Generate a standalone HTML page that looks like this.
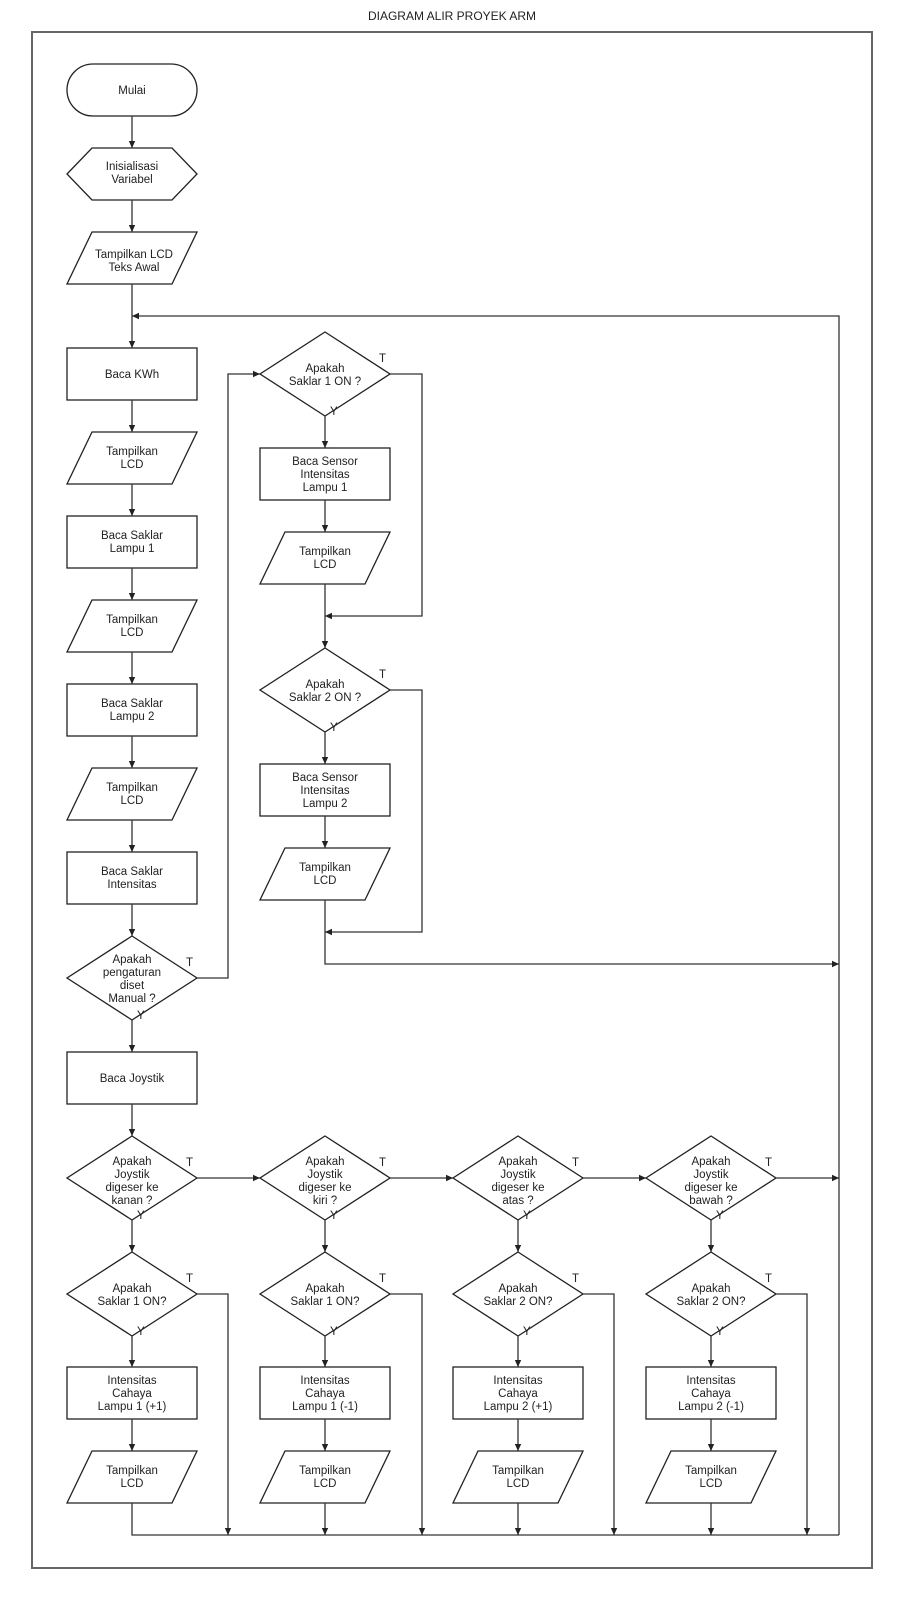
<!DOCTYPE html>
<html><head><meta charset="utf-8">
<style>
html,body{margin:0;padding:0;background:#fff;}
svg{display:block;}
text{font-family:"Liberation Sans",Arial,sans-serif;font-size:11.5px;fill:#222;}
</style></head>
<body>
<svg width="904" height="1600" viewBox="0 0 904 1600" xmlns="http://www.w3.org/2000/svg">
<defs>
<marker id="a" markerWidth="8" markerHeight="8" refX="7" refY="4" orient="auto" markerUnits="userSpaceOnUse">
<path d="M0,0.8 L7,4 L0,7.2 z" fill="#222"/>
</marker>
</defs>
<text x="452" y="20" text-anchor="middle" style="font-size:12px">DIAGRAM ALIR PROYEK ARM</text>
<rect x="32" y="32" width="840" height="1536" fill="none" stroke="#666" stroke-width="2"/>

<g fill="#fff" stroke="#222" stroke-width="1.3">
<!-- column 1 -->
<rect x="67" y="64" width="130" height="52" rx="26"/>
<polygon points="67,174 92,148 172,148 197,174 172,200 92,200"/>
<polygon points="92,232 197,232 172,284 67,284"/>
<rect x="67" y="348" width="130" height="52"/>
<polygon points="92,432 197,432 172,484 67,484"/>
<rect x="67" y="516" width="130" height="52"/>
<polygon points="92,600 197,600 172,652 67,652"/>
<rect x="67" y="684" width="130" height="52"/>
<polygon points="92,768 197,768 172,820 67,820"/>
<rect x="67" y="852" width="130" height="52"/>
<polygon points="132,936 197,978 132,1020 67,978"/>
<rect x="67" y="1052" width="130" height="52"/>
<!-- column 2 upper -->
<polygon points="325,332 390,374 325,416 260,374"/>
<rect x="260" y="448" width="130" height="52"/>
<polygon points="285,532 390,532 365,584 260,584"/>
<polygon points="325,648 390,690 325,732 260,690"/>
<rect x="260" y="764" width="130" height="52"/>
<polygon points="285,848 390,848 365,900 260,900"/>
<!-- bottom rows -->
<polygon points="132,1136 197,1178 132,1220 67,1178"/>
<polygon points="325,1136 390,1178 325,1220 260,1178"/>
<polygon points="518,1136 583,1178 518,1220 453,1178"/>
<polygon points="711,1136 776,1178 711,1220 646,1178"/>
<polygon points="132,1252 197,1294 132,1336 67,1294"/>
<polygon points="325,1252 390,1294 325,1336 260,1294"/>
<polygon points="518,1252 583,1294 518,1336 453,1294"/>
<polygon points="711,1252 776,1294 711,1336 646,1294"/>
<rect x="67" y="1367" width="130" height="52"/>
<rect x="260" y="1367" width="130" height="52"/>
<rect x="453" y="1367" width="130" height="52"/>
<rect x="646" y="1367" width="130" height="52"/>
<polygon points="92,1451 197,1451 172,1503 67,1503"/>
<polygon points="285,1451 390,1451 365,1503 260,1503"/>
<polygon points="478,1451 583,1451 558,1503 453,1503"/>
<polygon points="671,1451 776,1451 751,1503 646,1503"/>
</g>

<g fill="none" stroke="#333" stroke-width="1.3">
<!-- col1 arrows -->
<line x1="132" y1="116" x2="132" y2="148" marker-end="url(#a)"/>
<line x1="132" y1="200" x2="132" y2="232" marker-end="url(#a)"/>
<line x1="132" y1="284" x2="132" y2="348" marker-end="url(#a)"/>
<line x1="132" y1="400" x2="132" y2="432" marker-end="url(#a)"/>
<line x1="132" y1="484" x2="132" y2="516" marker-end="url(#a)"/>
<line x1="132" y1="568" x2="132" y2="600" marker-end="url(#a)"/>
<line x1="132" y1="652" x2="132" y2="684" marker-end="url(#a)"/>
<line x1="132" y1="736" x2="132" y2="768" marker-end="url(#a)"/>
<line x1="132" y1="820" x2="132" y2="852" marker-end="url(#a)"/>
<line x1="132" y1="904" x2="132" y2="936" marker-end="url(#a)"/>
<line x1="132" y1="1020" x2="132" y2="1052" marker-end="url(#a)"/>
<line x1="132" y1="1104" x2="132" y2="1136" marker-end="url(#a)"/>
<!-- loop back -->
<polyline points="839,1535 839,316 132,316" marker-end="url(#a)"/>
<!-- manual T -->
<polyline points="197,978 228,978 228,374 260,374" marker-end="url(#a)"/>
<!-- col2 upper -->
<line x1="325" y1="416" x2="325" y2="448" marker-end="url(#a)"/>
<line x1="325" y1="500" x2="325" y2="532" marker-end="url(#a)"/>
<line x1="325" y1="584" x2="325" y2="648" marker-end="url(#a)"/>
<polyline points="390,374 422,374 422,616 325,616" marker-end="url(#a)"/>
<line x1="325" y1="732" x2="325" y2="764" marker-end="url(#a)"/>
<line x1="325" y1="816" x2="325" y2="848" marker-end="url(#a)"/>
<polyline points="390,690 422,690 422,932 325,932" marker-end="url(#a)"/>
<polyline points="325,900 325,964 839,964" marker-end="url(#a)"/>
<!-- joystick row T -->
<line x1="197" y1="1178" x2="260" y2="1178" marker-end="url(#a)"/>
<line x1="390" y1="1178" x2="453" y2="1178" marker-end="url(#a)"/>
<line x1="583" y1="1178" x2="646" y2="1178" marker-end="url(#a)"/>
<line x1="776" y1="1178" x2="839" y2="1178" marker-end="url(#a)"/>
<!-- vertical flows per column -->
<line x1="132" y1="1220" x2="132" y2="1252" marker-end="url(#a)"/>
<line x1="325" y1="1220" x2="325" y2="1252" marker-end="url(#a)"/>
<line x1="518" y1="1220" x2="518" y2="1252" marker-end="url(#a)"/>
<line x1="711" y1="1220" x2="711" y2="1252" marker-end="url(#a)"/>
<line x1="132" y1="1336" x2="132" y2="1367" marker-end="url(#a)"/>
<line x1="325" y1="1336" x2="325" y2="1367" marker-end="url(#a)"/>
<line x1="518" y1="1336" x2="518" y2="1367" marker-end="url(#a)"/>
<line x1="711" y1="1336" x2="711" y2="1367" marker-end="url(#a)"/>
<line x1="132" y1="1419" x2="132" y2="1451" marker-end="url(#a)"/>
<line x1="325" y1="1419" x2="325" y2="1451" marker-end="url(#a)"/>
<line x1="518" y1="1419" x2="518" y2="1451" marker-end="url(#a)"/>
<line x1="711" y1="1419" x2="711" y2="1451" marker-end="url(#a)"/>
<!-- saklar T lines -->
<polyline points="197,1294 228,1294 228,1535" marker-end="url(#a)"/>
<polyline points="390,1294 422,1294 422,1535" marker-end="url(#a)"/>
<polyline points="583,1294 614,1294 614,1535" marker-end="url(#a)"/>
<polyline points="776,1294 807,1294 807,1535" marker-end="url(#a)"/>
<line x1="325" y1="1503" x2="325" y2="1535" marker-end="url(#a)"/>
<line x1="518" y1="1503" x2="518" y2="1535" marker-end="url(#a)"/>
<line x1="711" y1="1503" x2="711" y2="1535" marker-end="url(#a)"/>
<polyline points="132,1503 132,1535 839,1535"/>
</g>

<g text-anchor="middle">
<text x="132" y="94">Mulai</text>
<text x="132" y="170">Inisialisasi</text><text x="132" y="183">Variabel</text>
<text x="134" y="258">Tampilkan LCD</text><text x="134" y="271">Teks Awal</text>
<text x="132" y="378">Baca KWh</text>
<text x="132" y="455">Tampilkan</text><text x="132" y="468">LCD</text>
<text x="132" y="539">Baca Saklar</text><text x="132" y="552">Lampu 1</text>
<text x="132" y="623">Tampilkan</text><text x="132" y="636">LCD</text>
<text x="132" y="707">Baca Saklar</text><text x="132" y="720">Lampu 2</text>
<text x="132" y="791">Tampilkan</text><text x="132" y="804">LCD</text>
<text x="132" y="875">Baca Saklar</text><text x="132" y="888">Intensitas</text>
<text x="132" y="963">Apakah</text><text x="132" y="976">pengaturan</text><text x="132" y="989">diset</text><text x="132" y="1002">Manual ?</text>
<text x="132" y="1082">Baca Joystik</text>

<text x="325" y="372">Apakah</text><text x="325" y="385">Saklar 1 ON ?</text>
<text x="325" y="465">Baca Sensor</text><text x="325" y="478">Intensitas</text><text x="325" y="491">Lampu 1</text>
<text x="325" y="555">Tampilkan</text><text x="325" y="568">LCD</text>
<text x="325" y="688">Apakah</text><text x="325" y="701">Saklar 2 ON ?</text>
<text x="325" y="781">Baca Sensor</text><text x="325" y="794">Intensitas</text><text x="325" y="807">Lampu 2</text>
<text x="325" y="871">Tampilkan</text><text x="325" y="884">LCD</text>

<text x="132" y="1165">Apakah</text><text x="132" y="1178">Joystik</text><text x="132" y="1191">digeser ke</text><text x="132" y="1204">kanan ?</text>
<text x="325" y="1165">Apakah</text><text x="325" y="1178">Joystik</text><text x="325" y="1191">digeser ke</text><text x="325" y="1204">kiri ?</text>
<text x="518" y="1165">Apakah</text><text x="518" y="1178">Joystik</text><text x="518" y="1191">digeser ke</text><text x="518" y="1204">atas ?</text>
<text x="711" y="1165">Apakah</text><text x="711" y="1178">Joystik</text><text x="711" y="1191">digeser ke</text><text x="711" y="1204">bawah ?</text>

<text x="132" y="1292">Apakah</text><text x="132" y="1305">Saklar 1 ON?</text>
<text x="325" y="1292">Apakah</text><text x="325" y="1305">Saklar 1 ON?</text>
<text x="518" y="1292">Apakah</text><text x="518" y="1305">Saklar 2 ON?</text>
<text x="711" y="1292">Apakah</text><text x="711" y="1305">Saklar 2 ON?</text>

<text x="132" y="1384">Intensitas</text><text x="132" y="1397">Cahaya</text><text x="132" y="1410">Lampu 1 (+1)</text>
<text x="325" y="1384">Intensitas</text><text x="325" y="1397">Cahaya</text><text x="325" y="1410">Lampu 1 (-1)</text>
<text x="518" y="1384">Intensitas</text><text x="518" y="1397">Cahaya</text><text x="518" y="1410">Lampu 2 (+1)</text>
<text x="711" y="1384">Intensitas</text><text x="711" y="1397">Cahaya</text><text x="711" y="1410">Lampu 2 (-1)</text>

<text x="132" y="1474">Tampilkan</text><text x="132" y="1487">LCD</text>
<text x="325" y="1474">Tampilkan</text><text x="325" y="1487">LCD</text>
<text x="518" y="1474">Tampilkan</text><text x="518" y="1487">LCD</text>
<text x="711" y="1474">Tampilkan</text><text x="711" y="1487">LCD</text>
</g>

<g>
<!-- T / Y labels -->
<text x="379" y="362">T</text><text x="330" y="415">Y</text>
<text x="379" y="678">T</text><text x="330" y="731">Y</text>
<text x="186" y="966">T</text><text x="137" y="1019">Y</text>
<text x="186" y="1166">T</text><text x="137" y="1219">Y</text>
<text x="379" y="1166">T</text><text x="330" y="1219">Y</text>
<text x="572" y="1166">T</text><text x="523" y="1219">Y</text>
<text x="765" y="1166">T</text><text x="716" y="1219">Y</text>
<text x="186" y="1282">T</text><text x="137" y="1335">Y</text>
<text x="379" y="1282">T</text><text x="330" y="1335">Y</text>
<text x="572" y="1282">T</text><text x="523" y="1335">Y</text>
<text x="765" y="1282">T</text><text x="716" y="1335">Y</text>
</g>
</svg>
</body></html>
